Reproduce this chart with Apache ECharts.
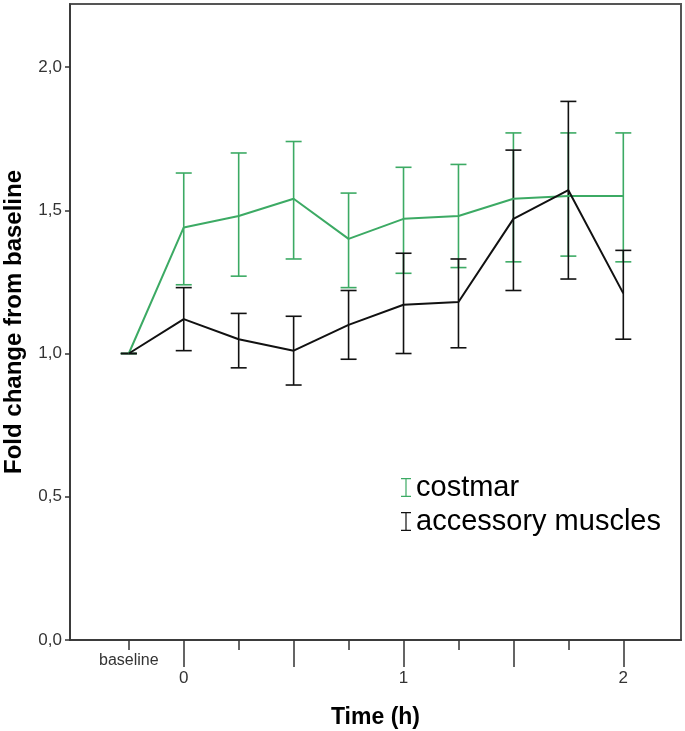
<!DOCTYPE html>
<html>
<head>
<meta charset="utf-8">
<script src="https://cdn.jsdelivr.net/npm/echarts@6/dist/echarts.min.js"></script>
<style>
  html, body { margin: 0; padding: 0; background: #fff; }
  #chart { width: 685px; height: 731px; }
</style>
</head>
<body>
<div id="chart"></div>
<script>
// time points (index on the x axis), baseline first
const timePoints = ['baseline', '0', '0.25', '0.5', '0.75', '1', '1.25', '1.5', '1.75', '2']
const xTickLabels = ['baseline', '0', '', '', '', '1', '', '', '', '2']
const yTicks = [0, 0.5, 1, 1.5, 2]
const yTickLabels = ['0,0', '0,5', '1,0', '1,5', '2,0']

// costmar
const costmarMean = [1.00, 1.44, 1.48, 1.54, 1.40, 1.47, 1.48, 1.54, 1.55, 1.55]
const costmarLow = [1.00, 1.24, 1.27, 1.33, 1.23, 1.28, 1.30, 1.32, 1.34, 1.32]
const costmarHigh = [1.00, 1.63, 1.70, 1.74, 1.56, 1.65, 1.66, 1.77, 1.77, 1.77]

// accessory muscles
const accMean = [1.00, 1.12, 1.05, 1.01, 1.10, 1.17, 1.18, 1.47, 1.57, 1.21]
const accLow = [1.00, 1.01, 0.95, 0.89, 0.98, 1.00, 1.02, 1.22, 1.26, 1.05]
const accHigh = [1.00, 1.23, 1.14, 1.13, 1.22, 1.35, 1.33, 1.71, 1.88, 1.36]

const GREEN = '#3caa64'
const BLACK = '#111111'
const FONT = '"Liberation Sans", Arial, sans-serif'
const legendIcon = 'path://M0,0H10V1.3H5.6V17.7H10V19H0V17.7H4.4V1.3H0Z'

const chart = echarts.init(document.getElementById('chart'))

const errorBars = (name, low, high, color) => ({
  name: name,
  type: 'custom',
  itemStyle: { color: color },
  data: low.map((l, i) => [i, l, high[i]]),
  renderItem: (params, api) => {
    const x = api.value(0)
    const lo = api.coord([x, api.value(1)])
    const hi = api.coord([x, api.value(2)])
    const half = 8
    const style = { stroke: color, lineWidth: 1.6 }
    return {
      type: 'group',
      children: [
        { type: 'line', shape: { x1: lo[0], y1: lo[1], x2: hi[0], y2: hi[1] }, style: style },
        { type: 'line', shape: { x1: hi[0] - half, y1: hi[1], x2: hi[0] + half, y2: hi[1] }, style: style },
        { type: 'line', shape: { x1: lo[0] - half, y1: lo[1], x2: lo[0] + half, y2: lo[1] }, style: style },
      ],
    }
  },
})

const meanLine = (name, values, color) => ({
  name: name,
  type: 'line',
  data: values.map((v, i) => [i, v]),
  showSymbol: false,
  lineStyle: { color: color, width: 2 },
  itemStyle: { color: color },
})

const xBase = {
  type: 'value',
  min: -1.07,
  max: 10.05,
  position: 'bottom',
  splitLine: { show: false },
  axisLine: { show: true, onZero: false, lineStyle: { color: '#333', width: 1.5 } },
}

const option = {
  animation: false,
  textStyle: { fontFamily: FONT },
  grid: {
    left: 70, right: 4, top: 4, bottom: 91,
    outerBoundsMode: 'none',
    containLabel: false,
    show: true, borderColor: '#555', borderWidth: 2, backgroundColor: '#fff',
  },
  legend: {
    orient: 'vertical',
    left: 396,
    top: 468,
    itemWidth: 10,
    itemHeight: 19,
    itemGap: 5,
    textStyle: { fontSize: 29, color: '#000', fontFamily: FONT },
    data: [
      { name: 'costmar', icon: legendIcon },
      { name: 'accessory muscles', icon: legendIcon },
    ],
  },
  xAxis: [
    Object.assign({}, xBase, {
      name: 'Time (h)',
      nameLocation: 'middle',
      nameGap: 66,
      nameTextStyle: { fontSize: 23, fontWeight: 'bold', color: '#000' },
      axisTick: { show: true, customValues: [1, 3, 5, 7, 9], length: 27, lineStyle: { color: '#333', width: 1.5 } },
      axisLabel: {
        customValues: [1, 5, 9],
        formatter: (v) => xTickLabels[Math.round(v)],
        margin: 30, fontSize: 17, color: '#333',
      },
    }),
    Object.assign({}, xBase, {
      axisLine: { show: false, onZero: false },
      axisTick: { show: true, customValues: [0, 2, 4, 6, 8], length: 10, lineStyle: { color: '#333', width: 1.5 } },
      axisLabel: {
        customValues: [0],
        formatter: (v) => xTickLabels[Math.round(v)],
        margin: 13, fontSize: 16, color: '#333',
      },
    }),
  ],
  yAxis: {
    type: 'value',
    min: 0,
    max: 2.22,
    name: 'Fold change from baseline',
    nameLocation: 'middle',
    nameGap: 44,
    nameTextStyle: { fontSize: 24, fontWeight: 'bold', color: '#000' },
    splitLine: { show: false },
    axisLine: { show: true, onZero: false, lineStyle: { color: '#333', width: 1.5 } },
    axisTick: { show: true, customValues: yTicks, length: 5, lineStyle: { color: '#333', width: 1.5 } },
    axisLabel: {
      customValues: yTicks,
      formatter: (v) => yTickLabels[yTicks.indexOf(v)],
      margin: 8, fontSize: 17, color: '#333',
    },
  },
  series: [
    errorBars('costmar', costmarLow, costmarHigh, GREEN),
    meanLine('costmar mean', costmarMean, GREEN),
    errorBars('accessory muscles', accLow, accHigh, BLACK),
    meanLine('accessory muscles mean', accMean, BLACK),
  ],
}

chart.setOption(option)
window.addEventListener('resize', () => chart.resize())
</script>
</body>
</html>
